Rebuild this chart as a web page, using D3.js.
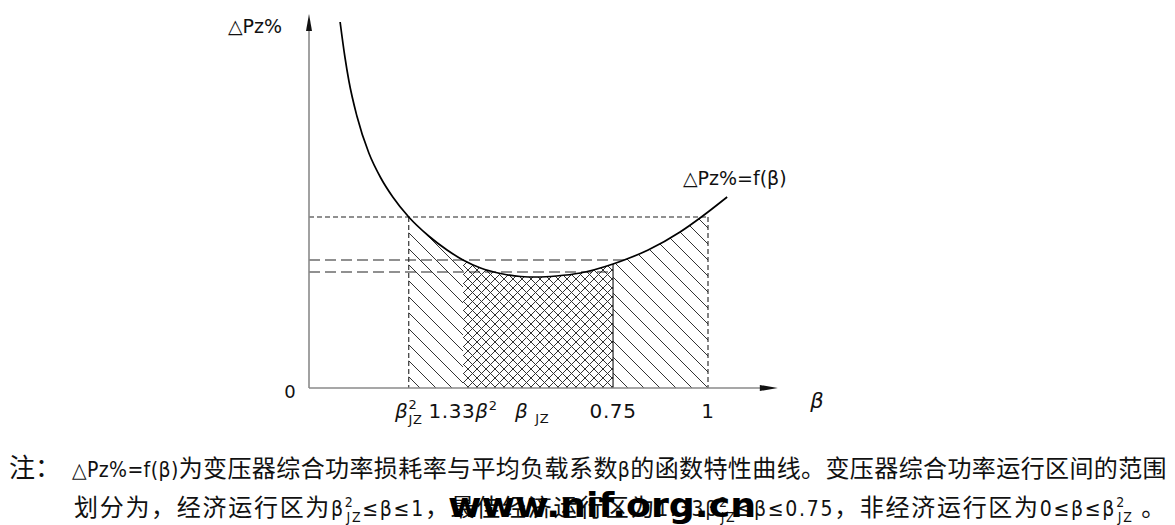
<!DOCTYPE html>
<html><head><meta charset="utf-8">
<script src="https://cdn.jsdelivr.net/npm/d3@7"></script>
<style>body{margin:0;background:#fff}svg{display:block}</style>
</head><body><svg id="c" width="1175" height="525"></svg>
<script>
// ---- data ----
const curveBeta = [0.078,0.09,0.10,0.12,0.15,0.18,0.21,0.25,0.30,0.346,0.386,0.43,0.48,0.53,0.57,0.62,0.68,0.762,0.79,0.85,0.93,0.98,1.0,1.048];
const curveLoss = [3.66,3.31,3.07,2.72,2.35,2.10,1.91,1.71,1.52,1.38,1.28,1.20,1.145,1.115,1.11,1.12,1.15,1.24,1.28,1.38,1.56,1.70,1.76,1.91];
const tickBeta = [0.25, 0.386, 0.559, 0.762, 1];
const tickLabels = ["β^{2}_{JZ}", "1.33β^{2}", "β _{JZ}", "0.75", "1"];
const zoneStart = [0.25, 0.386, 0.762];
const zoneEnd = [0.386, 0.762, 1.0];
const zoneHatch = ["diag", "cross", "diag"];
const levelLoss = [1.71, 1.28, 1.16];
const levelEnd = [1.0, 0.795, 0.762];
const levelDash = ["short", "long", "long"];
const vGuideBeta = [0.25, 1.0];
const yLabel = "△Pz%";
const xLabel = "β";
const curveLabel = "△Pz%=f(β)";
const noteHead = "注：";
const noteLine1 = "△Pz%=f(β)为变压器综合功率损耗率与平均负载系数β的函数特性曲线。变压器综合功率运行区间的范围";
const noteLine2 = "划分为，经济运行区为β^{2}_{JZ}≤β≤1，最佳经济运行区为1.33β^{2}_{JZ}≤β≤0.75，非经济运行区为0≤β≤β^{2}_{JZ} 。";
const watermark = "www.nif.org.cn";

// ---- layout ----
const LAT = "'DejaVu Sans','Noto Sans CJK SC',sans-serif";
const NOTE = "'DejaVu Sans Condensed','DejaVu Sans','Noto Sans CJK SC',sans-serif";
const CJK = "'Noto Sans CJK SC',sans-serif";
const svg = d3.select("#c");
const x = d3.scaleLinear().domain([0, 1]).range([309, 708]);
const y = d3.scaleLinear().domain([0, 1]).range([388, 288]);
const xMax = 1.175, yMax = 3.74;
const pts = curveBeta.map((b, i) => ({b, v: curveLoss[i]}));
const crv = d3.curveMonotoneX;

const defs = svg.append("defs");
const pd = defs.append("pattern").attr("id", "diag").attr("patternUnits", "userSpaceOnUse").attr("width", 16).attr("height", 16);
pd.append("path").attr("d", "M-4,-4L20,20M-4,12L4,20M12,-4L20,4").attr("stroke", "#333").attr("stroke-width", 1).attr("fill", "none");
const pc = defs.append("pattern").attr("id", "cross").attr("patternUnits", "userSpaceOnUse").attr("width", 9).attr("height", 9);
pc.append("path").attr("d", "M-2,-2L11,11M11,-2L-2,11").attr("stroke", "#333").attr("stroke-width", 1).attr("fill", "none");

const area = d3.area().x(d => x(d.b)).y0(y(0)).y1(d => y(d.v)).curve(crv);
zoneStart.forEach((s, i) => {
  const id = "clip" + i;
  defs.append("clipPath").attr("id", id).append("rect")
    .attr("x", x(s)).attr("y", 0).attr("width", x(zoneEnd[i]) - x(s)).attr("height", y(0));
  svg.append("path").attr("d", area(pts)).attr("fill", "url(#" + zoneHatch[i] + ")").attr("clip-path", "url(#" + id + ")");
});

// guides
levelLoss.forEach((v, i) => {
  svg.append("line").attr("x1", x(0)).attr("x2", x(levelEnd[i])).attr("y1", y(v)).attr("y2", y(v))
    .attr("stroke", "#222").attr("stroke-width", 1.1)
    .attr("stroke-dasharray", levelDash[i] === "short" ? "5,3" : "11,5");
});
vGuideBeta.forEach(b => {
  svg.append("line").attr("x1", x(b)).attr("x2", x(b)).attr("y1", y(levelLoss[0])).attr("y2", y(0))
    .attr("stroke", "#222").attr("stroke-width", 1.1).attr("stroke-dasharray", "5,3");
});
const lineGen = d3.line().x(d => x(d.b)).y(d => y(d.v)).curve(crv);
{
  const tmp = svg.append("path").attr("d", lineGen(pts)).attr("fill", "none");
  const node = tmp.node(), L = node.getTotalLength();
  let best = null; const tx = x(zoneEnd[1]);
  for (let s = 0; s <= L; s += 0.5) { const p = node.getPointAtLength(s); if (best === null || Math.abs(p.x - tx) < Math.abs(best.x - tx)) best = p; }
  tmp.remove();
  svg.append("line").attr("x1", tx).attr("x2", tx).attr("y1", best.y).attr("y2", y(0)).attr("stroke", "#222").attr("stroke-width", 1.2);
}

// axes
svg.append("line").attr("x1", x(0)).attr("x2", x(xMax) - 10).attr("y1", y(0)).attr("y2", y(0)).attr("stroke", "#8a8a8a").attr("stroke-width", 1.6);
svg.append("line").attr("x1", x(0)).attr("x2", x(0)).attr("y1", y(0)).attr("y2", y(yMax) + 10).attr("stroke", "#8a8a8a").attr("stroke-width", 1.6);
svg.append("path").attr("d", `M${x(xMax)},${y(0)}L${x(xMax) - 18},${y(0) - 3}L${x(xMax) - 18},${y(0) + 3}Z`).attr("fill", "#111");
svg.append("path").attr("d", `M${x(0)},${y(yMax)}L${x(0) - 3},${y(yMax) + 17}L${x(0) + 3},${y(yMax) + 17}Z`).attr("fill", "#111");

// curve
svg.append("path").attr("d", lineGen(pts)).attr("fill", "none").attr("stroke", "#000").attr("stroke-width", 1.7);

// rich text helper
const CJKRE = /[\u3000-\u303f\u4e00-\u9fff\uff00-\uffef]/;
function addRuns(t, str, o) {
  const re = /\^\{([^}]*)\}_\{([^}]*)\}|\^\{([^}]*)\}|_\{([^}]*)\}|([^^_]+)/g;
  let m, off = 0, n = 0;
  const fs = o.fs, small = o.small;
  const normal = s => {
    let parts = [s];
    if (o.italicBeta) parts = s.split(/(β)/).filter(p => p);
    if (o.fsCJK) parts = s.split(/([\u3000-\u303f\u4e00-\u9fff\uff00-\uffef]+)/).filter(p => p);
    parts.forEach(p => {
      const ts = t.append("tspan").text(p).attr("font-size", fs).attr("dy", -off);
      off = 0;
      if (o.italicBeta && p === "β") ts.attr("font-style", "italic");
      if (o.fsCJK && CJKRE.test(p)) ts.attr("font-size", o.fsCJK).attr("font-family", CJK);
      n += p.length;
    });
  };
  while ((m = re.exec(str))) {
    if (m[5] !== undefined) normal(m[5]);
    else if (m[1] !== undefined) {
      const a = t.append("tspan").text(m[1]).attr("font-size", small).attr("dy", -fs * 0.45 - off);
      const w = a.node().getComputedTextLength();
      t.append("tspan").text(m[2]).attr("font-size", small).attr("dx", -w).attr("dy", fs * 0.75);
      off = fs * 0.30; n += m[1].length + m[2].length;
    } else if (m[3] !== undefined) {
      t.append("tspan").text(m[3]).attr("font-size", small).attr("dy", -fs * 0.42 - off);
      off = -fs * 0.42; n += m[3].length;
    } else if (m[4] !== undefined) {
      t.append("tspan").text(m[4]).attr("font-size", small).attr("dy", fs * 0.25 - off);
      off = fs * 0.25; n += m[4].length;
    }
  }
  return n;
}

// tick labels
tickBeta.forEach((b, i) => {
  const t = svg.append("text").attr("x", x(b)).attr("y", 418).attr("text-anchor", "middle")
    .attr("font-family", LAT).attr("fill", "#111").attr("letter-spacing", "0.6px");
  addRuns(t, tickLabels[i], {fs: 20, small: 13, italicBeta: true});
});
svg.append("text").attr("x", 290).attr("y", 398).attr("text-anchor", "middle").attr("font-family", LAT).attr("font-size", 18).attr("fill", "#111").text("0");
svg.append("text").attr("x", 817).attr("y", 408).attr("text-anchor", "middle").attr("font-family", LAT).attr("font-size", 21).attr("font-style", "italic").attr("fill", "#111").text(xLabel);
svg.append("text").attr("x", 228).attr("y", 33).attr("font-family", LAT).attr("font-size", 19).attr("fill", "#111").text(yLabel);
svg.append("text").attr("x", 683).attr("y", 185).attr("font-family", LAT).attr("font-size", 19).attr("fill", "#111").text(curveLabel);

// notes
svg.append("text").attr("x", 9).attr("y", 477).attr("font-family", CJK).attr("font-size", 26).attr("fill", "#111").text(noteHead);
function justified(str, x0, yb, target) {
  const t = svg.append("text").attr("x", x0).attr("y", yb).attr("font-family", NOTE).attr("fill", "#111");
  const n = addRuns(t, str, {fs: 21, fsCJK: 24, small: 14});
  const w = t.node().getBBox().width;
  t.attr("letter-spacing", ((target - w) / n).toFixed(3) + "px");
  return t;
}
justified(noteLine1, 72, 477, 1095);
justified(noteLine2, 74, 516, 1093);
svg.append("text").attr("x", 448).attr("y", 517).attr("font-family", LAT).attr("font-weight", "bold").attr("font-size", 34)
  .attr("textLength", 308).attr("lengthAdjust", "spacingAndGlyphs").attr("fill", "#000").text(watermark);
</script></body></html>
